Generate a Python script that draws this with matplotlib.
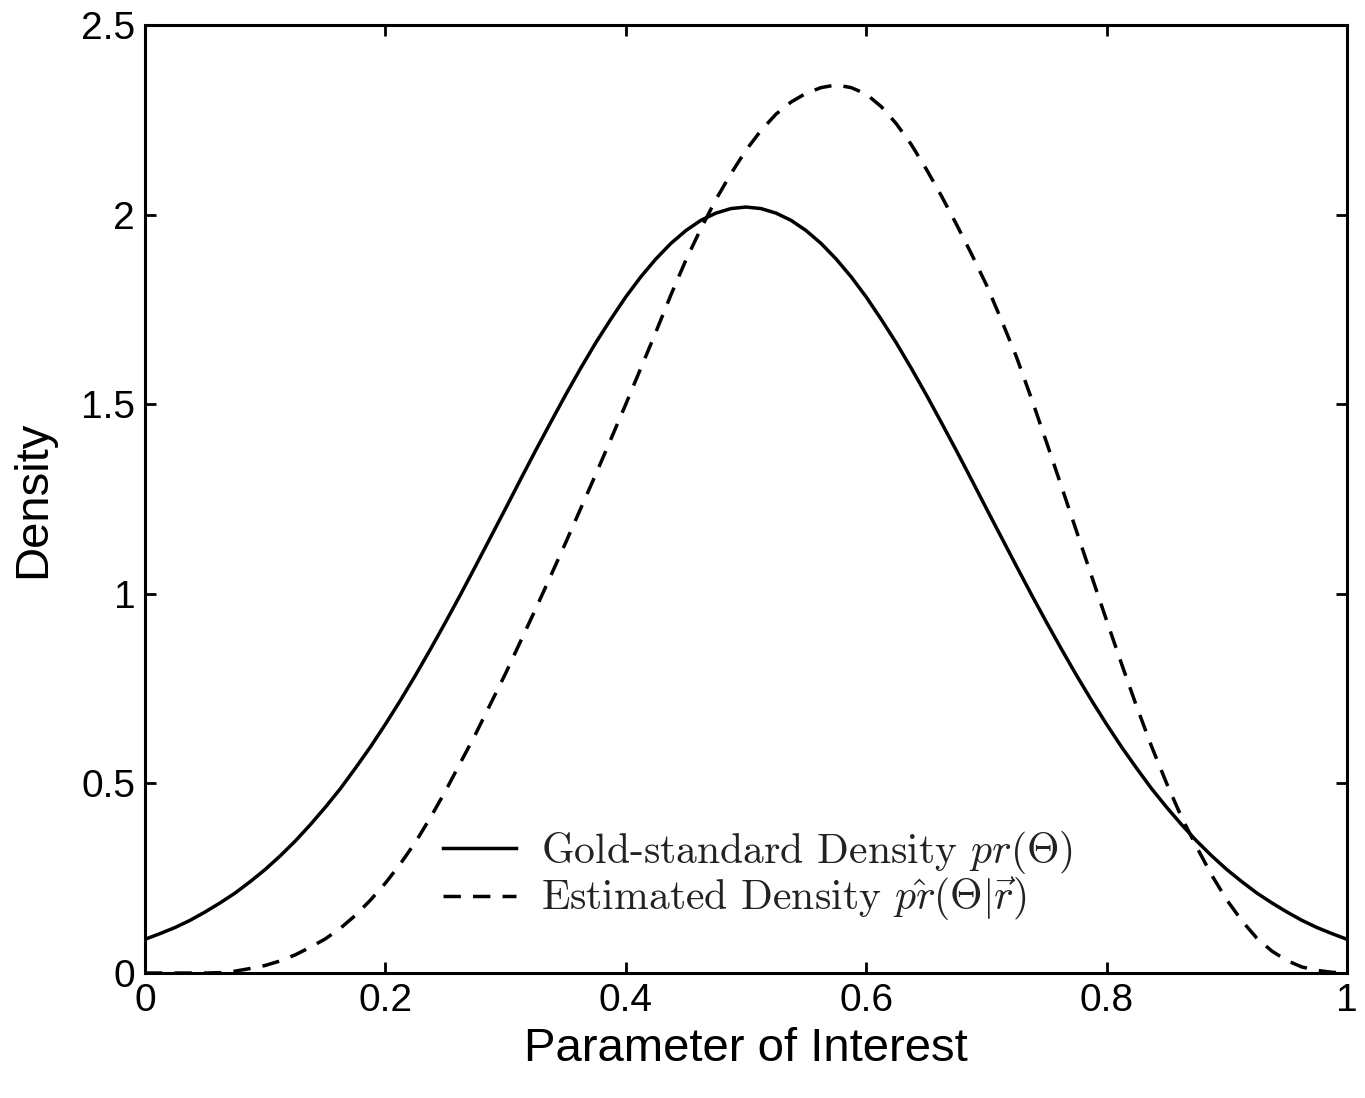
import matplotlib
matplotlib.use("Agg")
import matplotlib.pyplot as plt

# values (step 0.0125 on the x axis)
theta = [0.0000, 0.0125, 0.0250, 0.0375, 0.0500, 0.0625, 0.0750, 0.0875, 0.1000, 0.1125,
         0.1250, 0.1375, 0.1500, 0.1625, 0.1750, 0.1875, 0.2000, 0.2125, 0.2250, 0.2375,
         0.2500, 0.2625, 0.2750, 0.2875, 0.3000, 0.3125, 0.3250, 0.3375, 0.3500, 0.3625,
         0.3750, 0.3875, 0.4000, 0.4125, 0.4250, 0.4375, 0.4500, 0.4625, 0.4750, 0.4875,
         0.5000, 0.5125, 0.5250, 0.5375, 0.5500, 0.5625, 0.5750, 0.5875, 0.6000, 0.6125,
         0.6250, 0.6375, 0.6500, 0.6625, 0.6750, 0.6875, 0.7000, 0.7125, 0.7250, 0.7375,
         0.7500, 0.7625, 0.7750, 0.7875, 0.8000, 0.8125, 0.8250, 0.8375, 0.8500, 0.8625,
         0.8750, 0.8875, 0.9000, 0.9125, 0.9250, 0.9375, 0.9500, 0.9625, 0.9750, 0.9875,
         1.0000]

gold_density = [0.089, 0.104, 0.120, 0.139, 0.161, 0.185, 0.211, 0.241, 0.273, 0.309,
                0.348, 0.391, 0.437, 0.486, 0.540, 0.596, 0.656, 0.719, 0.785, 0.854,
                0.925, 0.998, 1.073, 1.149, 1.225, 1.302, 1.378, 1.452, 1.525, 1.595,
                1.662, 1.724, 1.783, 1.836, 1.883, 1.924, 1.958, 1.985, 2.004, 2.016,
                2.020, 2.016, 2.004, 1.985, 1.958, 1.924, 1.883, 1.836, 1.783, 1.724,
                1.662, 1.595, 1.525, 1.452, 1.378, 1.302, 1.225, 1.149, 1.073, 0.998,
                0.925, 0.854, 0.785, 0.719, 0.656, 0.596, 0.540, 0.486, 0.437, 0.391,
                0.348, 0.309, 0.273, 0.241, 0.211, 0.185, 0.161, 0.139, 0.120, 0.104,
                0.089]

est_density = [0.000, 0.000, 0.000, 0.000, 0.000, 0.001, 0.005, 0.012, 0.020, 0.032,
               0.048, 0.068, 0.090, 0.118, 0.152, 0.192, 0.237, 0.288, 0.345, 0.410,
               0.480, 0.555, 0.630, 0.710, 0.790, 0.875, 0.960, 1.047, 1.135, 1.225,
               1.315, 1.407, 1.500, 1.595, 1.690, 1.788, 1.880, 1.963, 2.040, 2.108,
               2.170, 2.222, 2.265, 2.297, 2.320, 2.335, 2.342, 2.335, 2.318, 2.285,
               2.240, 2.185, 2.120, 2.050, 1.975, 1.897, 1.815, 1.722, 1.625, 1.515,
               1.400, 1.283, 1.165, 1.047, 0.930, 0.815, 0.703, 0.597, 0.500, 0.410,
               0.332, 0.258, 0.193, 0.138, 0.092, 0.058, 0.033, 0.016, 0.007, 0.002,
               0.000]

x_ticks = [0, 0.2, 0.4, 0.6, 0.8, 1]
x_labels = ["0", "0.2", "0.4", "0.6", "0.8", "1"]
y_ticks = [0, 0.5, 1, 1.5, 2, 2.5]
y_labels = ["0", "0.5", "1", "1.5", "2", "2.5"]

plt.rcParams['font.family'] = ['Liberation Sans', 'DejaVu Sans']
plt.rcParams['mathtext.fontset'] = 'cm'

fig = plt.figure(figsize=(13.65, 10.98), dpi=100)
ax = fig.add_axes([0.1062, 0.1138, 0.8806, 0.8634])

ax.plot(theta, gold_density, color='black', lw=2.5,
        label=r'Gold-standard Density $pr(\Theta)$')
ax.plot(theta, est_density, color='black', lw=2.5, linestyle=(0, (5, 3.5)),
        label=r'Estimated Density $\hat{pr}(\Theta|\vec{r})$')

ax.set_xlim(0, 1)
ax.set_ylim(0, 2.5)
ax.set_xticks(x_ticks)
ax.set_xticklabels(x_labels)
ax.set_yticks(y_ticks)
ax.set_yticklabels(y_labels)
ax.tick_params(direction='in', length=8, width=2, labelsize=28,
               top=True, right=True, pad=7)
for s in ax.spines.values():
    s.set_linewidth(2.2)

ax.set_xlabel("Parameter of Interest", fontsize=34, labelpad=6)
ax.set_ylabel("Density", fontsize=34, labelpad=19)

leg = ax.legend(loc='center left', bbox_to_anchor=(0.248, 0.1023), frameon=False,
                prop={'family': 'cmr10', 'size': 30}, handlelength=1.75,
                handletextpad=0.6, labelspacing=0.0, borderpad=0,
                borderaxespad=0)
for t in leg.get_texts():
    t.set_color('#222222')

fig.savefig("out.png", dpi=100)
